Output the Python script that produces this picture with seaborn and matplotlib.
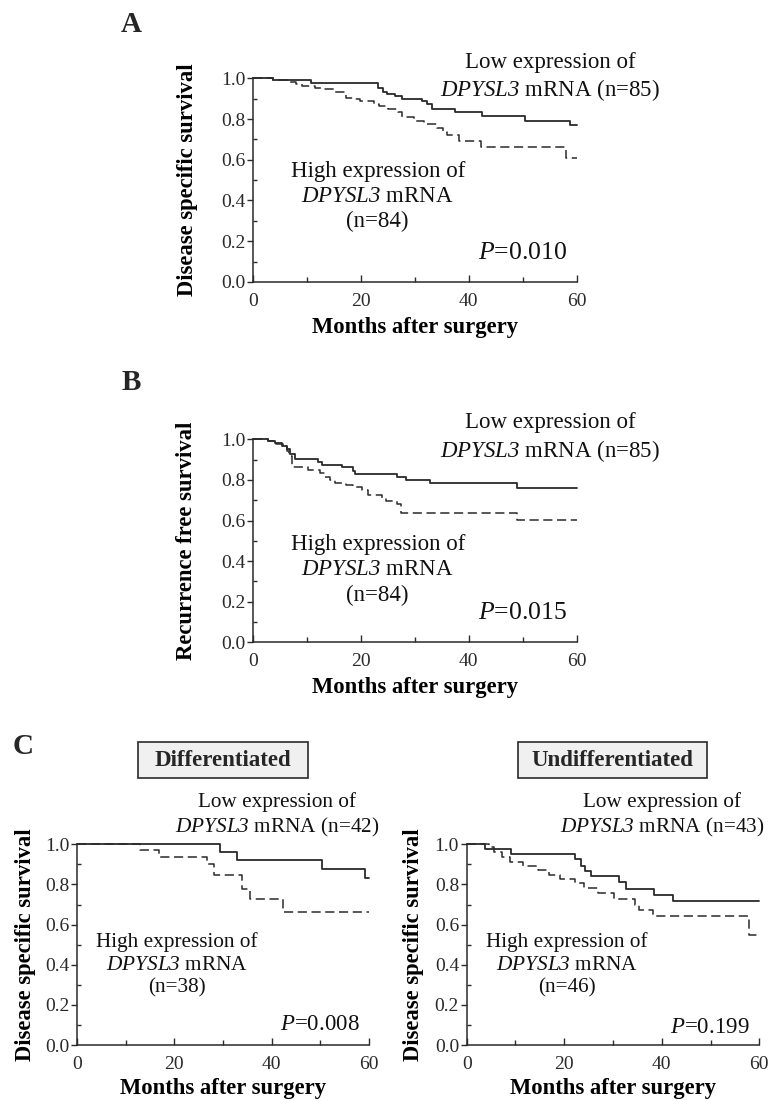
import matplotlib
matplotlib.use("Agg")
import matplotlib.pyplot as plt
from matplotlib.patches import Rectangle
from matplotlib.ticker import MultipleLocator, FixedLocator
import seaborn as sns
import pandas as pd

# ---------------- data ----------------
A_low_t = [3.7, 10.8, 23.2, 24.1, 24.8, 26.3, 27.6, 31.3, 32.2, 33.1, 37.5, 42.4, 50.5, 58.8]
A_low_s = [0.99, 0.975, 0.95, 0.935, 0.925, 0.915, 0.90, 0.89, 0.875, 0.85, 0.833, 0.817, 0.79, 0.77]
A_high_t = [3.7, 6.8, 8.0, 9.0, 11.5, 12.7, 14.9, 16.8, 17.3, 18.6, 19.8, 22.4, 23.3, 25.0,
            26.9, 27.6, 29.8, 31.6, 34.1, 35.3, 36.0, 38.1, 42.3, 58.0]
A_high_s = [0.99, 0.98, 0.97, 0.96, 0.953, 0.945, 0.935, 0.92, 0.905, 0.90, 0.89, 0.875, 0.865, 0.85,
            0.835, 0.81, 0.79, 0.775, 0.755, 0.735, 0.72, 0.69, 0.663, 0.607]

B_low_t = [2.8, 4.0, 5.3, 6.2, 6.8, 7.7, 12.1, 12.7, 16.4, 18.6, 18.9, 26.6, 28.4, 32.8, 48.9]
B_low_s = [0.99, 0.98, 0.965, 0.95, 0.93, 0.905, 0.89, 0.875, 0.862, 0.845, 0.83, 0.815, 0.80, 0.785, 0.762]
B_high_t = [2.8, 4.3, 5.6, 6.2, 6.7, 7.1, 10.2, 12.4, 13.3, 14.2, 15.2, 17.3, 18.6, 20.1, 21.3,
            23.8, 24.6, 26.6, 27.5, 48.9]
B_high_s = [0.99, 0.975, 0.96, 0.94, 0.92, 0.865, 0.85, 0.835, 0.815, 0.80, 0.785, 0.775, 0.765, 0.75, 0.725,
            0.71, 0.695, 0.68, 0.637, 0.603]

CL_low_t = [29.3, 32.9, 50.4, 59.1]
CL_low_s = [0.96, 0.92, 0.875, 0.83]
CL_high_t = [12.9, 16.8, 26.7, 28.2, 34.0, 35.5, 42.3]
CL_high_s = [0.97, 0.935, 0.90, 0.845, 0.78, 0.73, 0.665]

CR_low_t = [3.7, 9.1, 22.2, 23.5, 24.3, 25.4, 31.3, 32.7, 38.5, 42.4]
CR_low_s = [0.975, 0.95, 0.925, 0.89, 0.865, 0.84, 0.81, 0.78, 0.75, 0.72]
CR_high_t = [4.5, 5.6, 7.2, 8.8, 11.6, 14.6, 16.9, 19.2, 22.3, 24.0, 27.0, 30.1, 34.6, 35.4, 38.1, 57.9]
CR_high_s = [0.985, 0.96, 0.935, 0.91, 0.89, 0.87, 0.848, 0.825, 0.805, 0.782, 0.757, 0.728, 0.70, 0.675, 0.645, 0.55]

x_ticks = [0, 20, 40, 60]
y_ticks = [0.0, 0.2, 0.4, 0.6, 0.8, 1.0]
y_ticklabels = ["0.0", "0.2", "0.4", "0.6", "0.8", "1.0"]
FOLLOW_UP = 60

# gene name in italics (mathsf is mapped to the italic serif so the digit is italic too)
GENE = "$\\mathsf{DPYSL3}$"
low_A_txt = "Low expression of\n" + GENE + " mRNA (n=85)"
high_A_txt = "High expression of\n" + GENE + " mRNA\n(n=84)"
low_CL_txt = "Low expression of\n" + GENE + " mRNA (n=42)"
high_CL_txt = "High expression of\n" + GENE + " mRNA\n(n=38)"
low_CR_txt = "Low expression of\n" + GENE + " mRNA (n=43)"
high_CR_txt = "High expression of\n" + GENE + " mRNA\n(n=46)"

# ---------------- style ----------------
sns.set_theme(style="ticks")
SERIF = ["Liberation Serif", "DejaVu Serif"]
plt.rcParams["font.family"] = SERIF
plt.rcParams["mathtext.fontset"] = "custom"
plt.rcParams["mathtext.rm"] = "Liberation Serif"
plt.rcParams["mathtext.it"] = "Liberation Serif:italic"
plt.rcParams["mathtext.sf"] = "Liberation Serif:italic"
plt.rcParams["mathtext.bf"] = "Liberation Serif:bold"

INK = "#2a2a2a"

fig = plt.figure(figsize=(7.68, 11.01), dpi=100)


def curve_frame(t, s):
    tt = [0.0] + list(t) + [FOLLOW_UP]
    ss = [1.0] + list(s) + [s[-1]]
    return pd.DataFrame({"month": tt, "surv": ss})


def km_panel(rect, low_t, low_s, high_t, high_s, ylabel, low_txt, low_xy, high_txt, high_xy,
             ptxt, p_xy, ann_fs, p_fs, ylab_x, xlab_y):
    ax = fig.add_axes(rect)
    sns.lineplot(data=curve_frame(low_t, low_s), x="month", y="surv", ax=ax,
                 drawstyle="steps-post", color=INK, linewidth=1.3, estimator=None,
                 sort=False, clip_on=False)
    sns.lineplot(data=curve_frame(high_t, high_s), x="month", y="surv", ax=ax,
                 drawstyle="steps-post", color=INK, linewidth=1.1, estimator=None,
                 sort=False, clip_on=False, linestyle=(0, (6, 3)))
    ax.set_xlim(0, 60)
    ax.set_ylim(0, 1.0)
    sns.despine(ax=ax)
    for sp in ("left", "bottom"):
        ax.spines[sp].set_color(INK)
        ax.spines[sp].set_linewidth(1.1)
    ax.xaxis.set_major_locator(FixedLocator(x_ticks))
    ax.xaxis.set_minor_locator(MultipleLocator(10))
    ax.yaxis.set_major_locator(FixedLocator(y_ticks))
    ax.set_yticklabels(y_ticklabels)
    ax.yaxis.set_minor_locator(MultipleLocator(0.1))
    ax.tick_params(axis="x", which="major", direction="in", length=5, width=1.0,
                   color=INK, labelsize=14, labelcolor=INK, pad=8)
    ax.tick_params(axis="x", which="minor", direction="in", length=3.5, width=1.0, color=INK)
    ax.tick_params(axis="y", which="major", direction="out", length=4.5, width=1.0,
                   color=INK, labelsize=14, labelcolor=INK, pad=1)
    ax.tick_params(axis="y", which="minor", direction="in", length=3, width=1.0, color=INK)
    ax.set_xlabel("Months after surgery", fontsize=16.3, fontweight="bold", color="black")
    ax.set_ylabel(ylabel, fontsize=16.3, fontweight="bold", color="black")
    ax.xaxis.label.set_verticalalignment("center")
    ax.yaxis.label.set_verticalalignment("center")
    ax.xaxis.set_label_coords(0.5, xlab_y)
    ax.yaxis.set_label_coords(ylab_x, 0.5)
    ax.text(low_xy[0], low_xy[1], low_txt, ha="center", va="center", fontsize=ann_fs,
            color="#111111", linespacing=1.25, clip_on=False)
    ax.text(high_xy[0], high_xy[1], high_txt, ha="center", va="center", fontsize=ann_fs,
            color="#111111", linespacing=1.25)
    ax.text(p_xy[0], p_xy[1], ptxt, ha="right", va="center", fontsize=p_fs, color="#111111")
    ax.set_facecolor("white")
    return ax


km_panel([0.3298, 0.7439, 0.4209, 0.1850], A_low_t, A_low_s, A_high_t, A_high_s,
         "Disease specific survival", low_A_txt, (55.1, 1.004), high_A_txt, (23.1, 0.42),
         "$P$=0.010", (58.3, 0.141), 16.5, 18.5, -0.205, -0.222)

km_panel([0.3298, 0.4166, 0.4209, 0.1844], B_low_t, B_low_s, B_high_t, B_high_s,
         "Recurrence free survival", low_A_txt, (55.1, 1.006), high_A_txt, (23.1, 0.356),
         "$P$=0.015", (58.3, 0.144), 16.5, 18.5, -0.206, -0.222)

km_panel([0.1003, 0.0508, 0.3802, 0.1823], CL_low_t, CL_low_s, CL_high_t, CL_high_s,
         "Disease specific survival", low_CL_txt, (41.1, 1.143), high_CL_txt, (20.5, 0.399),
         "$P$=0.008", (58.1, 0.10), 15.3, 16.5, -0.178, -0.214)

km_panel([0.6077, 0.0508, 0.3810, 0.1823], CR_low_t, CR_low_s, CR_high_t, CR_high_s,
         "Disease specific survival", low_CR_txt, (40.0, 1.143), high_CR_txt, (20.6, 0.399),
         "$P$=0.199", (57.9, 0.09), 15.3, 16.5, -0.183, -0.214)

W, H = 768.0, 1101.0


def fx(px):
    return px / W


def fy(py):
    return 1 - py / H


# panel letters
for letter, (px, py) in {"A": (131, 25), "B": (131, 383), "C": (23, 747)}.items():
    fig.text(fx(px), fy(py), letter, fontsize=21, fontweight="bold", ha="center", va="center")

# subgroup boxes
for label, (x0, x1) in {"Differentiated": (138, 308), "Undifferentiated": (518, 707)}.items():
    y0, y1 = 742, 778
    fig.patches.append(Rectangle((fx(x0), fy(y1)), fx(x1) - fx(x0), fy(y0) - fy(y1),
                                 transform=fig.transFigure, facecolor="#f0f0f0",
                                 edgecolor=INK, linewidth=1.2, zorder=1))
    fig.text(fx((x0 + x1) / 2), fy((y0 + y1) / 2), label, fontsize=16.5, fontweight="bold",
             ha="center", va="center", zorder=2)

fig.savefig("out.png", dpi=100, facecolor="white")
